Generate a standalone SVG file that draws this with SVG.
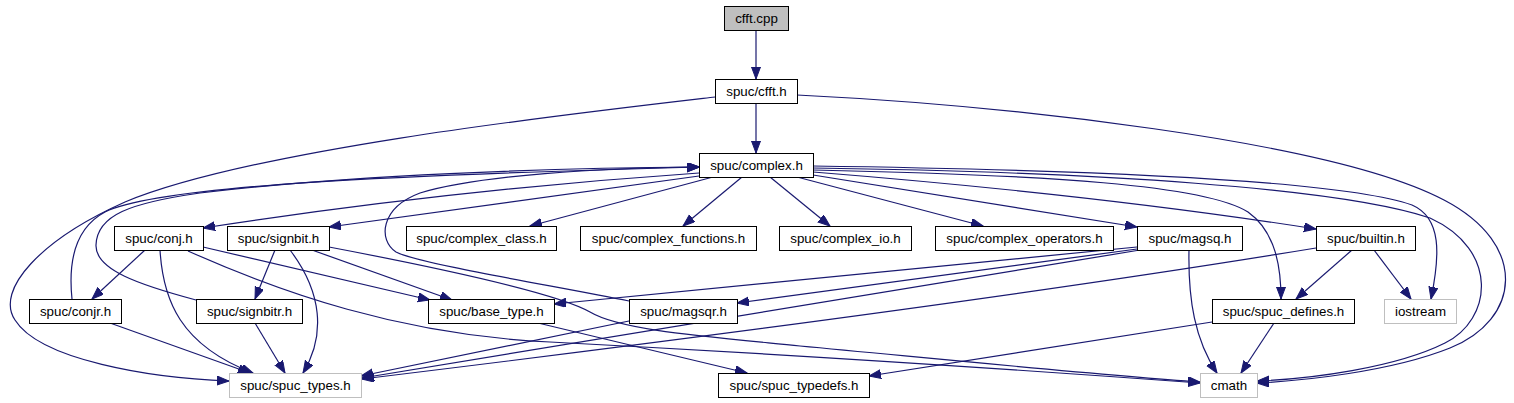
<svg xmlns="http://www.w3.org/2000/svg" width="1514" height="403" viewBox="0 0 1514 403">
<style>
.n rect{fill:#fff;stroke:#000;stroke-width:1}
.n.g rect{stroke:#bfbfbf}
.n.r rect{fill:#bfbfbf}
.n text{font-family:"Liberation Sans",Arial,Helvetica,sans-serif;font-size:13.33px;fill:#000;text-anchor:middle}
.e path{fill:none;stroke:#191970;stroke-width:1.2;marker-end:url(#a)}
</style>
<defs>
<marker id="a" markerUnits="userSpaceOnUse" markerWidth="13" markerHeight="10" refX="12" refY="4.5" orient="auto">
<path d="M0,0 L12,4.5 L0,9 z" fill="#191970" stroke="#191970" stroke-width="1"/>
</marker>
</defs>
<rect width="1514" height="403" fill="#fff"/>
<g id="edges" class="e">
<path d="M756,30 L756,79"/>
<path d="M756,103 L756,153"/>
<path d="M715,97 C560,115 250,150 125,202 C40,240 -5,290 15,320 C40,360 150,378 229,381"/>
<path d="M797,95 C1000,105 1330,140 1444,200 C1530,245 1520,320 1450,348 C1390,372 1300,381 1257,383"/>
<path d="M813,168 C1100,172 1340,188 1430,218 C1500,250 1492,320 1445,343 C1395,368 1310,379 1257,381"/>
<path d="M813,166 C1100,170 1340,180 1412,205 C1442,218 1440,255 1431,299"/>
<path d="M813,170 C1050,175 1205,185 1248,212 C1276,232 1281,268 1281,299"/>
<path d="M813,172 Q1100,195 1316,229"/>
<path d="M813,175 L1137,227"/>
<path d="M797,177 L983,226"/>
<path d="M770,177 L830,226"/>
<path d="M742,177 L683,226"/>
<path d="M713,177 L530,226"/>
<path d="M699,176 L329,227"/>
<path d="M699,173 Q450,190 203,228"/>
<path d="M72,299 C68,260 75,228 105,212 C160,185 400,175 699,167"/>
<path d="M196,300 C140,285 95,270 96,245 C97,215 130,203 200,193 C350,175 550,168 699,167"/>
<path d="M629,301 C550,285 420,264 396,252 C378,240 380,208 420,193 C480,175 600,168 699,167"/>
<path d="M145,250 L92,299"/>
<path d="M160,250 C163,300 180,345 253,373"/>
<path d="M203,247 L430,300"/>
<path d="M188,251 C280,292 400,335 550,342 C800,355 1050,372 1200,383"/>
<path d="M275,250 L255,299"/>
<path d="M290,250 C322,292 326,335 303,373"/>
<path d="M312,250 L452,300"/>
<path d="M329,247 C450,270 560,295 590,312 C620,330 700,336 800,346 C950,360 1100,375 1200,382"/>
<path d="M110,323 L250,373"/>
<path d="M255,323 L285,373"/>
<path d="M538,323 L747,373"/>
<path d="M629,321 L361,376"/>
<path d="M1137,247 L554,304"/>
<path d="M1137,249 L737,303"/>
<path d="M1140,250 Q750,315 362,378"/>
<path d="M1316,248 C1000,300 600,350 362,379"/>
<path d="M1352,250 L1296,299"/>
<path d="M1374,250 L1411,299"/>
<path d="M1189,250 C1188,300 1195,340 1217,373"/>
<path d="M1274,323 L1241,373"/>
<path d="M1212,322 L869,376"/>
</g>
<g id="n_cfft_cpp" class="n r"><rect x="724.5" y="6.5" width="64" height="24"/><text x="756.5" y="23">cfft.cpp</text></g>
<g id="n_cfft_h" class="n"><rect x="715.5" y="79.5" width="82" height="24"/><text x="756.5" y="96">spuc/cfft.h</text></g>
<g id="n_complex_h" class="n"><rect x="699.5" y="153.5" width="114" height="24"/><text x="756.5" y="170">spuc/complex.h</text></g>
<g id="n_conj_h" class="n"><rect x="114.5" y="226.5" width="89" height="24"/><text x="159" y="243">spuc/conj.h</text></g>
<g id="n_signbit_h" class="n"><rect x="227.5" y="226.5" width="102" height="24"/><text x="278.5" y="243">spuc/signbit.h</text></g>
<g id="n_complex_class_h" class="n"><rect x="406.5" y="226.5" width="150" height="24"/><text x="481.5" y="243">spuc/complex_class.h</text></g>
<g id="n_complex_functions_h" class="n"><rect x="580.5" y="226.5" width="176" height="24"/><text x="668.5" y="243">spuc/complex_functions.h</text></g>
<g id="n_complex_io_h" class="n"><rect x="779.5" y="226.5" width="132" height="24"/><text x="845.5" y="243">spuc/complex_io.h</text></g>
<g id="n_complex_operators_h" class="n"><rect x="935.5" y="226.5" width="178" height="24"/><text x="1024.5" y="243">spuc/complex_operators.h</text></g>
<g id="n_magsq_h" class="n"><rect x="1137.5" y="226.5" width="105" height="24"/><text x="1190" y="243">spuc/magsq.h</text></g>
<g id="n_builtin_h" class="n"><rect x="1316.5" y="226.5" width="99" height="24"/><text x="1366" y="243">spuc/builtin.h</text></g>
<g id="n_conjr_h" class="n"><rect x="29.5" y="299.5" width="92" height="24"/><text x="75.5" y="316">spuc/conjr.h</text></g>
<g id="n_signbitr_h" class="n"><rect x="196.5" y="299.5" width="106" height="24"/><text x="249.5" y="316">spuc/signbitr.h</text></g>
<g id="n_base_type_h" class="n"><rect x="428.5" y="299.5" width="126" height="24"/><text x="491.5" y="316">spuc/base_type.h</text></g>
<g id="n_magsqr_h" class="n"><rect x="629.5" y="299.5" width="108" height="24"/><text x="683.5" y="316">spuc/magsqr.h</text></g>
<g id="n_spuc_defines_h" class="n"><rect x="1212.5" y="299.5" width="142" height="24"/><text x="1283.5" y="316">spuc/spuc_defines.h</text></g>
<g id="n_iostream" class="n g"><rect x="1384.5" y="299.5" width="72" height="24"/><text x="1420.5" y="316">iostream</text></g>
<g id="n_spuc_types_h" class="n g"><rect x="229.5" y="373.5" width="132" height="24"/><text x="295.5" y="390">spuc/spuc_types.h</text></g>
<g id="n_spuc_typedefs_h" class="n"><rect x="718.5" y="373.5" width="151" height="24"/><text x="794" y="390">spuc/spuc_typedefs.h</text></g>
<g id="n_cmath" class="n g"><rect x="1200.5" y="373.5" width="57" height="24"/><text x="1229" y="390">cmath</text></g>
</svg>
